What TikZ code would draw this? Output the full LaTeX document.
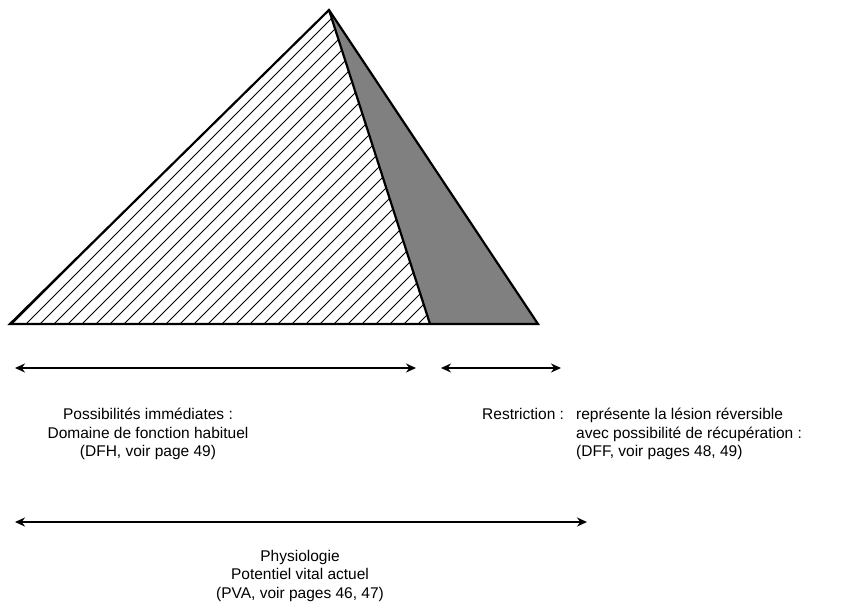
\documentclass[tikz,border=0pt]{standalone}
\usepackage{fontspec}
\setmainfont{Liberation Sans}
\usetikzlibrary{arrows.meta}
\begin{document}
\begin{tikzpicture}[
    x=1pt, y=-1pt,
    outline/.style={line width=2.2pt, line join=miter},
    hatch/.style={line width=1pt},
    span/.style={line width=1.5pt, {Stealth[length=10pt,width=9pt]}-{Stealth[length=10pt,width=9pt]}},
    legend/.style={inner sep=0pt, font=\fontsize{15.5}{18.5}\selectfont}
  ]
    \useasboundingbox (0,0) rectangle (867,613);

    % Pyramid
    \coordinate (apex) at (329,10);
    \coordinate (baseL) at (10,324);
    \coordinate (baseM) at (430,324);
    \coordinate (baseR) at (538,324);

    \fill[black!50] (apex) -- (baseM) -- (baseR) -- cycle;
    \begin{scope}
      \clip (apex) -- (baseL) -- (baseM) -- cycle;
      \foreach \a in {-330,-316,...,450} {
        \draw[hatch] (\a,330) -- (\a+330,0);
      }
    \end{scope}
    \draw[outline] (apex) -- (baseM);
    \draw[outline] (apex) -- (baseL) -- (baseR) -- cycle;

    % Spans
    \coordinate (habL) at (15,368);
    \coordinate (habR) at (416,368);
    \coordinate (resL) at (441,368);
    \coordinate (resR) at (561,368);
    \coordinate (pvaL) at (15,522);
    \coordinate (pvaR) at (587,522);
    \draw[span] (habL) -- (habR);
    \draw[span] (resL) -- (resR);
    \draw[span] (pvaL) -- (pvaR);

    % Labels
    \node[legend, align=center, anchor=north] (dfh) at (148,408)
      {Possibilités immédiates :\\Domaine de fonction habituel\\(DFH, voir page 49)};
    \node[legend, anchor=north west] (restr) at (482,408) {Restriction :};
    \node[legend, align=left, anchor=north west] (dff) at (576,408)
      {représente la lésion réversible\\avec possibilité de récupération :\\(DFF, voir pages 48, 49)};
    \node[legend, align=center, anchor=north] (pva) at (300,550)
      {Physiologie\\Potentiel vital actuel\\(PVA, voir pages 46, 47)};
\end{tikzpicture}
\end{document}
